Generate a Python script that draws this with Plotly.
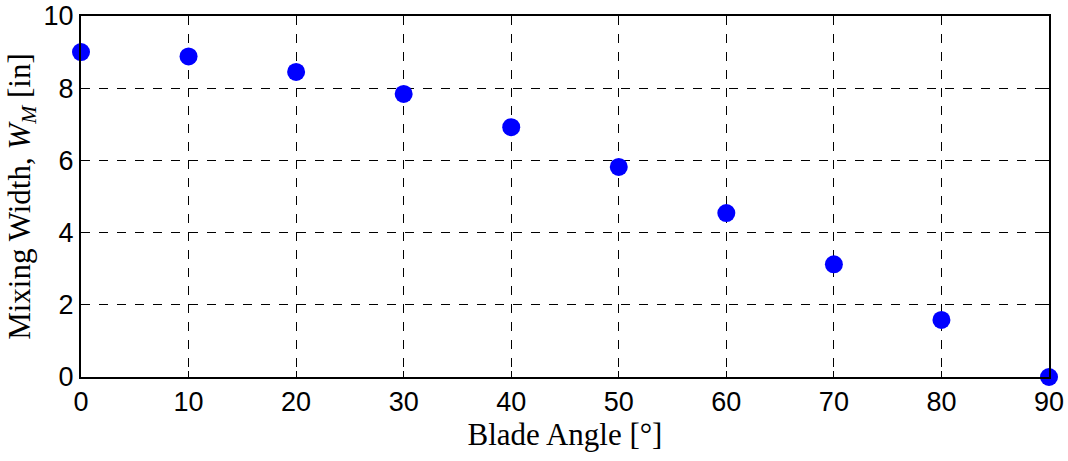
import plotly.graph_objects as go

angles = [0, 10, 20, 30, 40, 50, 60, 70, 80, 90]
widths = [9.0, 8.88, 8.45, 7.84, 6.92, 5.82, 4.54, 3.12, 1.58, 0.0]
x_ticks = [0, 10, 20, 30, 40, 50, 60, 70, 80, 90]
y_ticks = [0, 2, 4, 6, 8, 10]

fig = go.Figure(go.Scatter(
    x=angles, y=widths, mode="markers",
    marker=dict(color="#0000ff", size=18, line=dict(width=0)),
    cliponaxis=False,
))

axis_common = dict(
    showline=True, linecolor="black", linewidth=2, mirror="ticks",
    ticks="inside", ticklen=6, tickcolor="black", tickwidth=1,
    showgrid=True, gridcolor="black", griddash="dash", gridwidth=1,
    zeroline=False, automargin=False, ticklabeloverflow="allow",
    tickfont=dict(family="Liberation Sans, Arial", size=27, color="black"),
    title_font=dict(family="Liberation Serif, Times New Roman", size=31, color="black"),
)

fig.update_xaxes(range=[0, 90], tickvals=x_ticks, title_text="Blade Angle [°]",
                 title_standoff=6, **axis_common)
fig.update_yaxes(range=[0, 10], tickvals=y_ticks,
                 title_text="Mixing Width, <i>W</i><sub><i>M</i></sub> [in]",
                 title_standoff=4, **axis_common)

fig.update_layout(
    width=1068, height=461,
    margin=dict(l=81, r=19, t=16, b=84),
    plot_bgcolor="white", paper_bgcolor="white",
    showlegend=False,
)

fig.write_html("out.html", config={"displayModeBar": False},
               post_script="document.body.style.margin='0px';")
